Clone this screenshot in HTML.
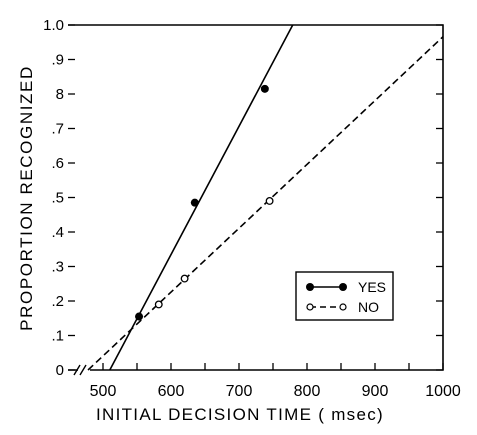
<!DOCTYPE html>
<html><head><meta charset="utf-8"><style>
html,body{margin:0;padding:0;background:#fff;}
svg{display:block;font-family:"Liberation Sans",sans-serif;}
</style></head><body>
<svg id="chart" width="477" height="435" viewBox="0 0 477 435"></svg>
<script>
const xTicks=[500,550,600,650,700,750,800,850,900,950,1000];
const xLabels=[500,600,700,800,900,1000];
const yTicks=[0,0.1,0.2,0.3,0.4,0.5,0.6,0.7,0.8,0.9,1.0];
const yLabels=["0",".1",".2",".3",".4",".5",".6",".7","8",".9","1.0"];
const yesX=[553,635,738];
const yesY=[0.155,0.485,0.815];
const yesLineX=[510,779];
const yesLineY=[0,1.0];
const noX=[582,620,745];
const noY=[0.19,0.265,0.49];
const noLineX=[478,1000];
const noLineY=[0,0.966];

const NS="http://www.w3.org/2000/svg";
const svg=document.getElementById('chart');
const X0=103,XS=0.68,Y0=370,YS=345,L=68,R=443,T=25;
function sx(v){return X0+(v-500)*XS;}
function sy(v){return Y0-v*YS;}
function mk(tag,attrs,parent){const e=document.createElementNS(NS,tag);for(const k in attrs)e.setAttribute(k,attrs[k]);(parent||svg).appendChild(e);return e;}

let e;
e=mk('path',{d:`M${L},${T} H${R} V${Y0} H90 M78,${Y0} H${L} Z`,fill:'none',stroke:'#000','stroke-width':1.6});


e=mk('path',{d:`M74,${Y0+5} L80,${Y0-5} M80,${Y0+5} L86,${Y0-5}`,stroke:'#000','stroke-width':1.4,fill:'none'});



xTicks.forEach(v=>{
  e=mk('line',{x1:sx(v),x2:sx(v),y1:Y0,y2:Y0-7,stroke:'#000','stroke-width':1.3});
  
  
});
xLabels.forEach(v=>{
  e=mk('text',{x:sx(v),y:Y0+26,'text-anchor':'middle','font-size':16});
  e.textContent=v;
  
  
});
yTicks.forEach((v,i)=>{
  e=mk('line',{x1:L,x2:L+7,y1:sy(v),y2:sy(v),stroke:'#000','stroke-width':1.3});
  
  
  e=mk('line',{x1:R,x2:R-7,y1:sy(v),y2:sy(v),stroke:'#000','stroke-width':1.3});
  
  
  e=mk('text',{x:L-4,y:sy(v)+5,'text-anchor':'end','font-size':15});
  e.textContent=yLabels[i];
  
  
});

e=mk('text',{x:240,y:420,'text-anchor':'middle','font-size':17,'letter-spacing':'1.3'});
e.textContent='INITIAL DECISION TIME ( msec)';


e=mk('text',{x:0,y:0,'text-anchor':'middle','font-size':17,'letter-spacing':'1.6',transform:'translate(32,198) rotate(-90)'});
e.textContent='PROPORTION RECOGNIZED';



e=mk('line',{x1:sx(yesLineX[0]),y1:sy(yesLineY[0]),x2:sx(yesLineX[1]),y2:sy(yesLineY[1]),stroke:'#000','stroke-width':1.6});


e=mk('line',{x1:sx(noLineX[0]),y1:sy(noLineY[0]),x2:sx(noLineX[1]),y2:sy(noLineY[1]),stroke:'#000','stroke-width':1.6,'stroke-dasharray':'7,4'});



noX.forEach((v,i)=>{
  e=mk('circle',{cx:sx(v),cy:sy(noY[i]),r:3.3,fill:'#fff',stroke:'#000','stroke-width':1.3});
  
  
});
yesX.forEach((v,i)=>{
  e=mk('circle',{cx:sx(v),cy:sy(yesY[i]),r:4,fill:'#000'});
  
  
});

const lg=mk('g',{});


mk('rect',{x:296,y:272,width:97,height:48,fill:'#fff',stroke:'#000','stroke-width':1.4},lg);
e=mk('g',{},lg);


mk('line',{x1:310,x2:343,y1:287,y2:287,stroke:'#000','stroke-width':1.6},e);
mk('circle',{cx:310,cy:287,r:4,fill:'#000'},e);
mk('circle',{cx:343,cy:287,r:4,fill:'#000'},e);
const t1=mk('text',{x:358,y:292,'font-size':14},e);t1.textContent='YES';
e=mk('g',{},lg);


mk('line',{x1:310,x2:343,y1:307,y2:307,stroke:'#000','stroke-width':1.4,'stroke-dasharray':'6,4'},e);
mk('circle',{cx:310,cy:307,r:3,fill:'#fff',stroke:'#000','stroke-width':1.2},e);
mk('circle',{cx:343,cy:307,r:3,fill:'#fff',stroke:'#000','stroke-width':1.2},e);
const t2=mk('text',{x:358,y:312,'font-size':14},e);t2.textContent='NO';
</script>
</body></html>
